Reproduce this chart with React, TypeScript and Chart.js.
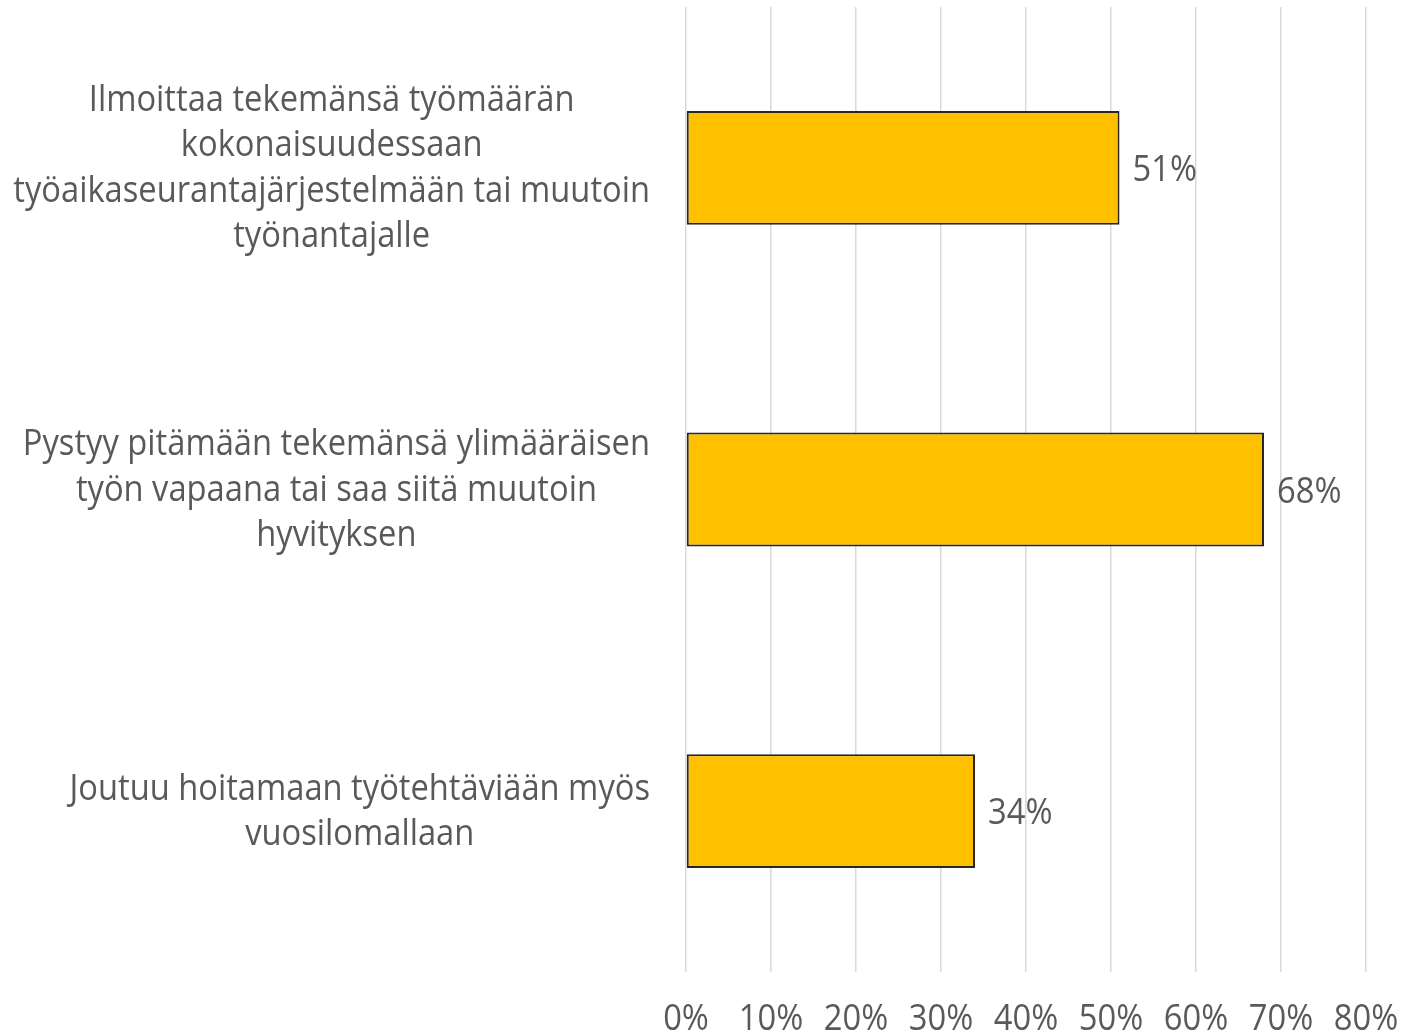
import React, { useEffect, useRef } from "react";
import { Chart, registerables } from "chart.js";

Chart.register(...registerables);

const categories: string[][] = [
  ["Ilmoittaa tekemänsä työmäärän", "kokonaisuudessaan", "työaikaseurantajärjestelmään tai muutoin", "työnantajalle"],
  ["Pystyy pitämään tekemänsä ylimääräisen", "työn vapaana tai saa siitä muutoin", "hyvityksen"],
  ["Joutuu hoitamaan työtehtäviään myös", "vuosilomallaan"],
];
const values: number[] = [51, 68, 34];
const xTicks: number[] = [0, 10, 20, 30, 40, 50, 60, 70, 80];

const FONT_FAMILY = "'Open Sans', 'Liberation Sans', sans-serif";
const FONT_SIZE = 36;
const SQUEEZE = 0.908;
const TEXT_COLOR = "#595959";

function drawText(ctx: CanvasRenderingContext2D, text: string, x: number, y: number) {
  ctx.save();
  ctx.translate(x, y);
  ctx.scale(SQUEEZE, 1);
  ctx.fillText(text, 0, 0);
  ctx.restore();
}

const labelPlugin = {
  id: "customLabels",
  afterDatasetsDraw(chart: any) {
    const ctx = chart.ctx as CanvasRenderingContext2D;
    const yScale = chart.scales.y;
    const xScale = chart.scales.x;
    ctx.save();
    ctx.font = `${FONT_SIZE}px ${FONT_FAMILY}`;
    ctx.fillStyle = TEXT_COLOR;
    ctx.textBaseline = "middle";
    // category labels
    const rightEdge = chart.chartArea.left - 36;
    const lineH = 45.5;
    categories.forEach((lines, i) => {
      const cy = yScale.getPixelForValue(i) + 1;
      const widest = Math.max(...lines.map((l) => ctx.measureText(l).width)) * SQUEEZE;
      const cx = rightEdge - widest / 2;
      ctx.textAlign = "center";
      lines.forEach((l, j) => {
        const y = cy + (j - (lines.length - 1) / 2) * lineH;
        drawText(ctx, l, cx, y);
      });
    });
    // data labels
    const meta = chart.getDatasetMeta(0);
    ctx.textAlign = "left";
    meta.data.forEach((bar: any, i: number) => {
      drawText(ctx, `${values[i]}%`, bar.x + 13, bar.y + 3);
    });
    // x tick labels
    ctx.textAlign = "center";
    xTicks.forEach((v) => {
      drawText(ctx, `${v}%`, xScale.getPixelForValue(v), chart.chartArea.bottom + 48);
    });
    ctx.restore();
  },
};

export default function App() {
  const canvasRef = useRef<HTMLCanvasElement | null>(null);

  useEffect(() => {
    if (!canvasRef.current) return;
    const chart = new Chart(canvasRef.current, {
      type: "bar",
      data: {
        labels: categories.map((c) => c.join(" ")),
        datasets: [
          {
            data: values,
            backgroundColor: "#FFC000",
            borderColor: "#262626",
            borderWidth: 2,
            borderSkipped: false,
            categoryPercentage: 1,
            barPercentage: 0.354,
          },
        ],
      },
      options: {
        indexAxis: "y",
        animation: false,
        responsive: true,
        maintainAspectRatio: false,
        layout: { padding: { top: 7, right: 42, left: 0, bottom: 0 } },
        plugins: {
          legend: { display: false },
          tooltip: { enabled: false },
        },
        scales: {
          x: {
            min: 0,
            max: 80,
            afterBuildTicks: (scale: any) => {
              scale.ticks = xTicks.map((v) => ({ value: v }));
            },
            afterFit: (scale: any) => {
              scale.height = 63;
              scale.paddingLeft = 0;
              scale.paddingRight = 0;
            },
            grid: {
              color: "#d9d9d9",
              lineWidth: 1.5,
              drawTicks: false,
            },
            border: { display: false },
            ticks: { display: false },
          },
          y: {
            afterFit: (scale: any) => {
              scale.width = 686;
            },
            grid: { display: false },
            border: { display: false },
            ticks: { display: false },
          },
        },
      },
      plugins: [labelPlugin],
    });
    return () => chart.destroy();
  }, []);

  return (
    <div style={{ position: "absolute", left: 0, top: 0, width: 1408, height: 1035, background: "#fff" }}>
      <canvas ref={canvasRef} />
    </div>
  );
}
